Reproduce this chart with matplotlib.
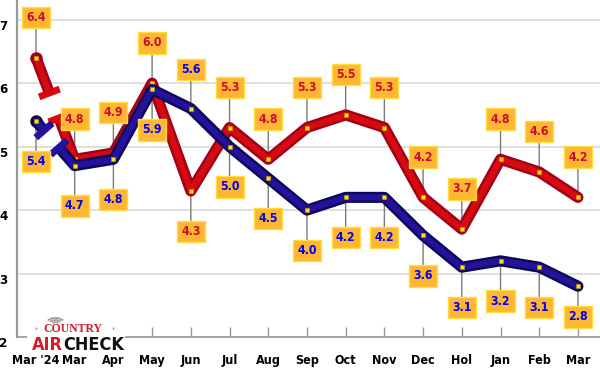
import numpy as np
import matplotlib
matplotlib.use('Agg')
import matplotlib.pyplot as plt
from matplotlib import font_manager
from matplotlib.font_manager import FontProperties
from matplotlib.patches import Arc, Rectangle

months = ["Mar '24", 'Mar', 'Apr', 'May', 'Jun', 'Jul', 'Aug', 'Sep',
          'Oct', 'Nov', 'Dec', 'Hol', 'Jan', 'Feb', 'Mar']
red_vals = [6.4, 4.8, 4.9, 6.0, 4.3, 5.3, 4.8, 5.3, 5.5, 5.3, 4.2, 3.7, 4.8, 4.6, 4.2]
blue_vals = [5.4, 4.7, 4.8, 5.9, 5.6, 5.0, 4.5, 4.0, 4.2, 4.2, 3.6, 3.1, 3.2, 3.1, 2.8]
y_ticks = [2, 3, 4, 5, 6, 7]

plt.rcParams['font.family'] = ['DejaVu Sans']

# 找压缩粗体字体文件
cond = [f.fname for f in font_manager.fontManager.ttflist
        if f.name == 'DejaVu Sans' and f.stretch == 'condensed' and f.weight == 700]
if cond:
    bold_cond = FontProperties(fname=cond[0])
else:
    bold_cond = FontProperties(family='DejaVu Sans', weight='bold')


def fp(size):
    p = bold_cond.copy()
    p.set_size(size)
    return p


fig = plt.figure(figsize=(6, 3.71), dpi=100)
ax = fig.add_axes([17 / 600, 34 / 371, 1 - 17 / 600, 1 - 34 / 371])
x = np.arange(len(months))
ax.set_xlim(-0.49, 14.57)
ax.set_ylim(2, 7.31)

# 网格和坐标轴
ax.set_yticks(y_ticks)
ax.yaxis.grid(True, color='#dcdcdc', lw=1.3)
ax.set_axisbelow(True)
for s in ['top', 'right']:
    ax.spines[s].set_visible(False)
ax.spines['left'].set_color('#9a9a9a')
ax.spines['left'].set_linewidth(1.6)
ax.spines['bottom'].set_color('#9a9a9a')
ax.spines['bottom'].set_linewidth(1.2)
ax.set_xticks(x)
ax.set_xticklabels(months)
ax.tick_params(axis='x', direction='in', length=7, width=1, color='#999999', pad=12)
ax.tick_params(axis='y', length=0, pad=7)
for lab in ax.get_xticklabels():
    lab.set_fontproperties(fp(9))
for lab in ax.get_yticklabels():
    lab.set_fontproperties(fp(9.5))
    lab.set_va('top')


def to_px(px, py):
    return ax.transData.transform((px, py))


def to_data(p):
    return ax.transData.inverted().transform(p)


def draw_series(vals, dark, light, z, t1, t2):
    kw = dict(solid_joinstyle='round', solid_capstyle='round')
    ax.plot(x[1:], vals[1:], color=dark, lw=8, zorder=z, **kw)
    ax.plot(x[1:], vals[1:], color=light, lw=4.5, zorder=z + 0.1, **kw)
    # 第一段断开（带横杠）
    p0 = to_px(x[0], vals[0])
    p1 = to_px(x[1], vals[1])
    d = p1 - p0
    u = d / np.hypot(*d)
    n = np.array([-u[1], u[0]])
    q1 = p0 + d * t1
    q2 = p0 + d * t2
    for a, b in [(p0, q1), (q2, p1)]:
        da, db = to_data(a), to_data(b)
        ax.plot([da[0], db[0]], [da[1], db[1]], color=dark, lw=8,
                solid_capstyle='butt', zorder=z)
        ax.plot([da[0], db[0]], [da[1], db[1]], color=light, lw=4.5,
                solid_capstyle='butt', zorder=z + 0.1)
    ax.plot(x[0], vals[0], 'o', ms=8, color=dark, zorder=z)
    for q, sgn in [(q1, -1), (q2, 1)]:
        c = q + u * sgn * 2.5
        e1, e2 = to_data(c + n * 11), to_data(c - n * 11)
        ax.plot([e1[0], e2[0]], [e1[1], e2[1]], color=light, lw=5,
                solid_capstyle='butt', zorder=z + 0.2)
    ax.plot(x, vals, 's', ms=3, color='#ffe600', mec='#c89a00', mew=0.4, zorder=z + 0.3)


def add_labels(vals, txt_color, offsets):
    for i, v in enumerate(vals):
        off = offsets[i]
        ax.annotate('', xy=(x[i], v), xytext=(0, off), textcoords='offset points',
                    arrowprops=dict(arrowstyle='-', color='#7a7a7a', lw=1,
                                    shrinkA=0, shrinkB=0), zorder=1)
        ax.annotate(f'{v:.1f}', xy=(x[i], v), xytext=(0, off), textcoords='offset points',
                    ha='center', va='center', fontproperties=fp(8.8), color=txt_color,
                    bbox=dict(boxstyle='square,pad=0.35', fc='#ffb733', ec='#ffdc40', lw=1),
                    zorder=10)


draw_series(red_vals, '#a0001a', '#d70a10', 3, 0.37, 0.57)
draw_series(blue_vals, '#0e085a', '#24129a', 5, 0.25, 0.55)

red_off = [29] * len(red_vals)
red_off[4] = -29
blue_off = [-29] * len(blue_vals)
blue_off[4] = 28
blue_off[-1] = -22
add_labels(red_vals, '#c8102e', red_off)
add_labels(blue_vals, '#0000ee', blue_off)

# logo
tr = fig.dpi_scale_trans
fig.add_artist(Rectangle((0.27, 0.17), 0.98, 0.24, transform=tr, fc='white', ec='none', zorder=2))
for r in [0.04, 0.07, 0.10]:
    fig.add_artist(Arc((0.555, 0.46), 2 * r, 1.4 * r, theta1=30, theta2=150, transform=tr,
                       color='#a0a0a0', lw=1.3, zorder=3))
fig.text(0.725, 0.42, 'COUNTRY', transform=tr, ha='center', va='center', fontsize=8.5,
         fontweight='bold', family=['Liberation Serif', 'DejaVu Serif'], color='#cc1f2f', zorder=3)
fig.text(0.63, 0.265, 'AIR', transform=tr, ha='right', va='center', fontproperties=fp(13),
         color='#d7192a', zorder=3)
fig.text(0.63, 0.265, 'CHECK', transform=tr, ha='left', va='center', fontproperties=fp(13),
         color='#111111', zorder=3)

fig.savefig('out.png', dpi=100)
